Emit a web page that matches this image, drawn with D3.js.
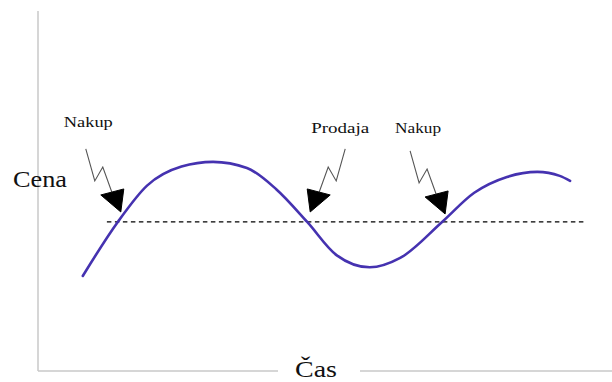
<!DOCTYPE html>
<html>
<head>
<meta charset="utf-8">
<script src="https://cdn.jsdelivr.net/npm/d3@7"></script>
<style>
  html, body { margin: 0; padding: 0; background: #fff; }
  svg { display: block; }
  text { font-family: "Liberation Serif", "Times New Roman", serif; fill: #111; }
</style>
</head>
<body>
<script>
// price path over time (time 0..100, price 0..100)
const times  = [7.8, 13.9, 19.0, 25.0, 30.5, 36.4, 41.5, 46.9, 52.0, 57.8, 63.1, 70.4, 76.0, 81.7, 87.0, 90.9, 92.7];
const prices = [26.4, 41.4, 51.5, 56.8, 58.1, 56.4, 50.5, 41.4, 32.2, 28.8, 31.4, 41.4, 49.5, 53.9, 55.3, 54.2, 52.8];

// reference level (dashed)
const levelPrice = 41.4;
const levelRange = [12.0, 95.1];

// signals: label + time at which the price crosses the level
const signalLabels = ['Nakup', 'Prodaja', 'Nakup'];
const signalTimes  = [13.9, 46.9, 70.4];
const signalDir    = [-1, 1, -1];   // -1 arrow comes from upper left, 1 from upper right

const axisLabels = { x: 'Čas', y: 'Cena' };

const width = 612, height = 382;

const svg = d3.select('body').append('svg')
  .attr('width', width)
  .attr('height', height);

const x = d3.scaleLinear().domain([0, 100]).range([38, 612]);
const y = d3.scaleLinear().domain([0, 100]).range([371, 11]);

// axes (plain lines, with gap for the time label)
svg.append('line')
  .attr('x1', x(0)).attr('x2', x(0))
  .attr('y1', y(100)).attr('y2', y(0))
  .attr('stroke', '#c9c9c9').attr('stroke-width', 1.5);
svg.append('line')
  .attr('x1', x(0)).attr('x2', 278)
  .attr('y1', y(0)).attr('y2', y(0))
  .attr('stroke', '#c9c9c9').attr('stroke-width', 1.5);
svg.append('line')
  .attr('x1', 360).attr('x2', x(100))
  .attr('y1', y(0)).attr('y2', y(0))
  .attr('stroke', '#c9c9c9').attr('stroke-width', 1.5);

svg.append('text')
  .attr('x', 295).attr('y', 377)
  .attr('font-size', 24)
  .attr('textLength', 42).attr('lengthAdjust', 'spacingAndGlyphs')
  .text(axisLabels.x);

svg.append('text')
  .attr('x', 13).attr('y', 187)
  .attr('font-size', 23)
  .attr('textLength', 54).attr('lengthAdjust', 'spacingAndGlyphs')
  .text(axisLabels.y);

// dashed level
svg.append('line')
  .attr('x1', x(levelRange[0])).attr('x2', x(levelRange[1]))
  .attr('y1', y(levelPrice)).attr('y2', y(levelPrice))
  .attr('stroke', '#000').attr('stroke-width', 1.3)
  .attr('stroke-dasharray', '4.5,3.5');

// price curve
const pts = times.map((t, i) => [t, prices[i]]);
const line = d3.line()
  .x(d => x(d[0]))
  .y(d => y(d[1]))
  .curve(d3.curveMonotoneX);

svg.append('path')
  .datum(pts)
  .attr('d', line)
  .attr('fill', 'none')
  .attr('stroke', '#4532b0')
  .attr('stroke-width', 2.6)
  .attr('stroke-linecap', 'round');

// arrow shape relative to tip, for an arrow coming from upper left
const zig = [[-35, -63], [-26, -31], [-18, -45], [-9, -20]];
const head = [[-20, -17], [3, -23], [0, 0]];
const labelOffset = [[-57, -85], [1, -79], [-50, -81]];
const labelWidth = [49, 58, 46];

signalTimes.forEach((t, i) => {
  const dir = signalDir[i];
  const tx = x(t) + 3, ty = y(levelPrice) - 10 + (i === 2 ? 2 : 0);
  const g = svg.append('g').attr('transform', `translate(${tx},${ty})`);
  g.append('path')
    .attr('d', d3.line()(zig.map(p => [p[0] * -dir, p[1]])))
    .attr('fill', 'none')
    .attr('stroke', '#555')
    .attr('stroke-width', 1.1);
  g.append('path')
    .attr('d', d3.line()(head.map(p => [p[0] * -dir, p[1]])) + 'Z')
    .attr('fill', '#000')
    .attr('stroke', '#000')
    .attr('stroke-width', 1)
    .attr('stroke-linejoin', 'round');
  g.append('text')
    .attr('x', labelOffset[i][0])
    .attr('y', labelOffset[i][1])
    .attr('font-size', 15)
    .attr('textLength', labelWidth[i]).attr('lengthAdjust', 'spacingAndGlyphs')
    .text(signalLabels[i]);
});
</script>
</body>
</html>
